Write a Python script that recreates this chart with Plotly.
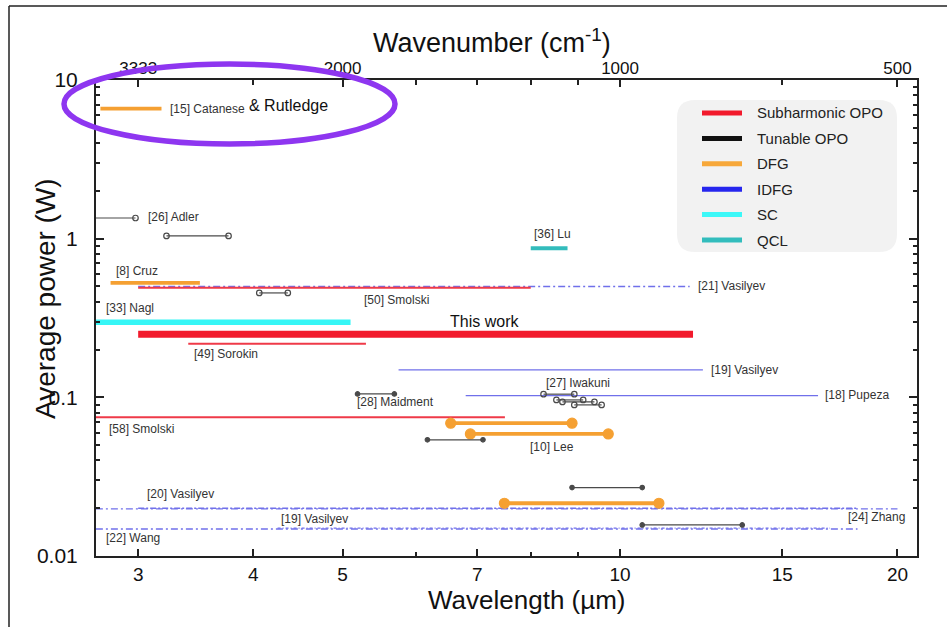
import math
import plotly.graph_objects as go

# ---------------- data: wavelength coverage (µm) and average power (W) ----------------
# Subharmonic OPO
sub_start = [3.0, 3.0, 3.4, 2.6]
sub_end = [12.0, 8.0, 5.3, 7.5]
sub_power = [0.25, 0.49, 0.218, 0.075]

# Tunable OPO
opo_start = [2.6, 3.22, 4.06, 5.19, 8.26, 8.53, 8.66, 8.92, 6.18, 8.87, 10.57]
opo_end = [2.98, 3.76, 4.36, 5.69, 8.92, 9.12, 9.38, 9.55, 7.10, 10.57, 13.57]
opo_power = [1.35, 1.04, 0.455, 0.105, 0.1047, 0.0963, 0.0936, 0.0896, 0.054, 0.027, 0.0157]

# DFG
dfg_start = [2.73, 2.80, 6.55, 6.88, 7.49]
dfg_end = [3.18, 3.50, 8.87, 9.71, 11.02]
dfg_power = [6.6, 0.526, 0.0687, 0.0588, 0.0215]

# IDFG
idfg_start = [3.0, 5.75, 6.8, 2.6, 3.0, 2.6, 4.25]
idfg_end = [11.9, 12.3, 16.4, 20.0, 18.1, 18.1, 16.9]
idfg_power = [0.50, 0.149, 0.1025, 0.0198, 0.0200, 0.0148, 0.0150]

# SC
sc_start = [2.6]
sc_end = [5.1]
sc_power = [0.297]

# QCL
qcl_start = [8.0]
qcl_end = [8.77]
qcl_power = [0.87]

# reference labels: text, wavelength, power
ref_text = ["[15] Catanese", "[26] Adler", "[36] Lu", "[8] Cruz", "[21] Vasilyev",
            "[50] Smolski", "[33] Nagl", "[49] Sorokin", "[19] Vasilyev", "[27] Iwakuni",
            "[18] Pupeza", "[28] Maidment", "[58] Smolski", "[10] Lee", "[20] Vasilyev",
            "[24] Zhang", "[19] Vasilyev", "[22] Wang"]
ref_wl = [3.23, 3.06, 8.03, 2.825, 12.1, 5.25, 2.756, 3.43, 12.5, 8.26,
          16.6, 5.16, 2.776, 7.95, 3.05, 17.57, 4.26, 2.756]
ref_pw = [6.6, 1.37, 1.07, 0.626, 0.503, 0.411, 0.366, 0.188, 0.149, 0.123,
          0.1035, 0.0935, 0.0632, 0.0487, 0.0246, 0.0176, 0.0171, 0.0130]

# axis ticks
wl_ticks = [3, 4, 5, 7, 10, 15, 20]
wl_minor = [6, 8, 9]
wn_ticks = [10000 / 3, 2000, 1000, 500]
wn_text = ["3333", "2000", "1000", "500"]
wn_minor = [2500, 10000 / 6, 10000 / 7, 1250, 10000 / 9, 10000 / 15]
pw_ticks = [0.01, 0.1, 1, 10]
pw_text = ["0.01", "0.1", "1", "10"]
pw_minor = [m * 10 ** e for e in (-2, -1, 0) for m in range(2, 10)]

legend_names = ["Subharmonic OPO", "Tunable OPO", "DFG", "IDFG", "SC", "QCL"]
legend_colors = ["#f21a2c", "#111111", "#f7a83a", "#2626ee", "#3cf8f8", "#33bdbd"]

# ---------------- styles ----------------
RED, RED_THIN = "#f21a2c", "#ef3a48"
GREY = "#4a4a4a"
ORANGE = "#f5a032"
LAV = "#7070ea"
CYAN = "#36f6f6"
TEAL = "#33bcbc"
FONT = "Liberation Sans, Arial, sans-serif"

W, H = 947, 627
ML, MR, MT, MB = 96, 30, 80, 71
PW, PH = W - ML - MR, H - MT - MB


def pxx(x):
    return (x - ML) / PW


def pxy(y):
    return (H - MB - y) / PH


fig = go.Figure()


def seg(x0, x1, y, color, width, dash="solid", mode="lines", msym="circle", msize=6):
    fig.add_trace(go.Scatter(
        x=[x0, x1], y=[y, y], mode=mode,
        line=dict(color=color, width=width, dash=dash),
        marker=dict(symbol=msym, size=msize, color=color,
                    line=dict(color=color, width=1.2)),
        showlegend=False, hoverinfo="skip"))


# IDFG (drawn first, underneath)
idfg_dash = ["7px,3px,2px,3px", "solid", "solid", "7px,3px,2px,3px",
             "6px,2px,2px,2px", "7px,3px,2px,3px", "3px,2px,1px,2px"]
idfg_w = [1.4, 1.4, 1.4, 1.3, 1.3, 1.3, 1.3]
for s, e, p, d, w in zip(idfg_start, idfg_end, idfg_power, idfg_dash, idfg_w):
    seg(s, e, p, LAV, w, dash=d)

# Subharmonic OPO
sub_w = [7, 2, 2, 2]
for s, e, p, w in zip(sub_start, sub_end, sub_power, sub_w):
    seg(s, e, p, RED if w > 3 else RED_THIN, w)

# SC
for s, e, p in zip(sc_start, sc_end, sc_power):
    seg(s, e, p, CYAN, 5.5)

# QCL
for s, e, p in zip(qcl_start, qcl_end, qcl_power):
    seg(s, e, p, TEAL, 4)

# DFG
dfg_dots = [False, False, True, True, True]
for s, e, p, dot in zip(dfg_start, dfg_end, dfg_power, dfg_dots):
    seg(s, e, p, ORANGE, 3.8, mode="lines+markers" if dot else "lines", msize=10)

# Tunable OPO
opo_open = [True, True, True, False, True, True, True, True, False, False, False]
for s, e, p, op in zip(opo_start, opo_end, opo_power, opo_open):
    seg(s, e, p, GREY, 1.2, mode="lines+markers",
        msym="circle-open" if op else "circle", msize=5.5 if op else 4.5)

# top-axis carrier
fig.add_trace(go.Scatter(x=[3, 20], y=[None, None], xaxis="x2", yaxis="y",
                         showlegend=False, hoverinfo="skip"))

annotations = []
for t, x, y in zip(ref_text, ref_wl, ref_pw):
    annotations.append(dict(x=math.log10(x), y=math.log10(y), xref="x", yref="y",
                            text=t, showarrow=False, xanchor="left", yanchor="middle",
                            font=dict(family=FONT, size=12, color="#333333")))
annotations.append(dict(x=math.log10(6.51), y=math.log10(0.299), xref="x", yref="y",
                        text="This work", showarrow=False, xanchor="left", yanchor="middle",
                        font=dict(family=FONT, size=16, color="#111111")))
annotations.append(dict(x=math.log10(3.94), y=math.log10(6.86), xref="x", yref="y",
                        text="& Rutledge", showarrow=False, xanchor="left", yanchor="middle",
                        font=dict(family=FONT, size=16, color="#111111")))

# axis titles
annotations.append(dict(x=pxx(45), y=pxy(299), xref="paper", yref="paper",
                        text="Average power (W)", textangle=-90, showarrow=False,
                        xanchor="center", yanchor="middle",
                        font=dict(family=FONT, size=28, color="#111111")))
annotations.append(dict(x=pxx(527), y=pxy(600), xref="paper", yref="paper",
                        text="Wavelength (µm)", showarrow=False,
                        xanchor="center", yanchor="middle",
                        font=dict(family=FONT, size=26, color="#111111")))
annotations.append(dict(x=pxx(492), y=pxy(41), xref="paper", yref="paper",
                        text="Wavenumber (cm<sup>-1</sup>)", showarrow=False,
                        xanchor="center", yanchor="middle",
                        font=dict(family=FONT, size=27, color="#111111")))

shapes = []
# legend box with rounded corners
bx0, bx1, by0, by1, rr = 677, 897, 100, 252, 18
X0, X1 = pxx(bx0), pxx(bx1)
Y0, Y1 = pxy(by1), pxy(by0)
rx, ry = rr / PW, rr / PH
path = (f"M {X0 + rx},{Y0} L {X1 - rx},{Y0} Q {X1},{Y0} {X1},{Y0 + ry} "
        f"L {X1},{Y1 - ry} Q {X1},{Y1} {X1 - rx},{Y1} L {X0 + rx},{Y1} "
        f"Q {X0},{Y1} {X0},{Y1 - ry} L {X0},{Y0 + ry} Q {X0},{Y0} {X0 + rx},{Y0} Z")
shapes.append(dict(type="path", path=path, xref="paper", yref="paper",
                   fillcolor="#f2f2f2", line=dict(width=0), layer="below"))
for i, (name, col) in enumerate(zip(legend_names, legend_colors)):
    yy = 113 + i * 25.4
    shapes.append(dict(type="line", xref="paper", yref="paper",
                       x0=pxx(702), x1=pxx(742), y0=pxy(yy), y1=pxy(yy),
                       line=dict(color=col, width=5)))
    annotations.append(dict(x=pxx(755), y=pxy(yy), xref="paper", yref="paper",
                            text=name, showarrow=False, xanchor="left", yanchor="middle",
                            font=dict(family=FONT, size=15, color="#222222")))

# highlight ellipse
shapes.append(dict(type="circle", xref="paper", yref="paper",
                   x0=pxx(64), x1=pxx(395), y0=pxy(144), y1=pxy(64),
                   line=dict(color="#8e36f0", width=5.5), layer="above"))

# outer frame lines
shapes.append(dict(type="line", xref="paper", yref="paper",
                   x0=pxx(9), x1=pxx(947), y0=pxy(6), y1=pxy(6),
                   line=dict(color="#222222", width=1.5)))
shapes.append(dict(type="line", xref="paper", yref="paper",
                   x0=pxx(9), x1=pxx(9), y0=pxy(6), y1=pxy(627),
                   line=dict(color="#222222", width=1.5)))

xrange = [math.log10(2.70), math.log10(21.0)]
axis_common = dict(showgrid=False, zeroline=False, showline=True, linecolor="#222222",
                   linewidth=2, ticks="inside", tickcolor="#222222", tickwidth=1.5)

fig.update_layout(
    width=W, height=H,
    margin=dict(l=ML, r=MR, t=MT, b=MB),
    paper_bgcolor="white", plot_bgcolor="white",
    font=dict(family=FONT, color="#111111"),
    showlegend=False,
    xaxis=dict(type="log", range=xrange, tickvals=wl_ticks,
               ticktext=[str(v) for v in wl_ticks], ticklen=7,
               tickfont=dict(size=19), ticklabelstandoff=0,
               minor=dict(tickvals=wl_minor, ticks="inside", ticklen=4,
                          tickcolor="#222222", tickwidth=1.5),
               **axis_common),
    xaxis2=dict(type="log", range=xrange, overlaying="x", side="top", anchor="y",
                tickvals=[1e4 / v for v in wn_ticks], ticktext=wn_text, ticklen=7,
                tickfont=dict(size=17), ticklabelstandoff=-3,
                minor=dict(tickvals=[1e4 / v for v in wn_minor], ticks="inside",
                           ticklen=5, tickcolor="#222222", tickwidth=1.5),
                **axis_common),
    yaxis=dict(type="log", range=[-2, 1], tickvals=pw_ticks, ticktext=pw_text,
               ticklen=8, tickfont=dict(size=21), ticklabelstandoff=12, mirror="ticks",
               minor=dict(tickvals=pw_minor, ticks="inside", ticklen=4,
                          tickcolor="#222222", tickwidth=1.5),
               **axis_common),
    annotations=annotations,
    shapes=shapes,
)

fig.write_html("out.html")
